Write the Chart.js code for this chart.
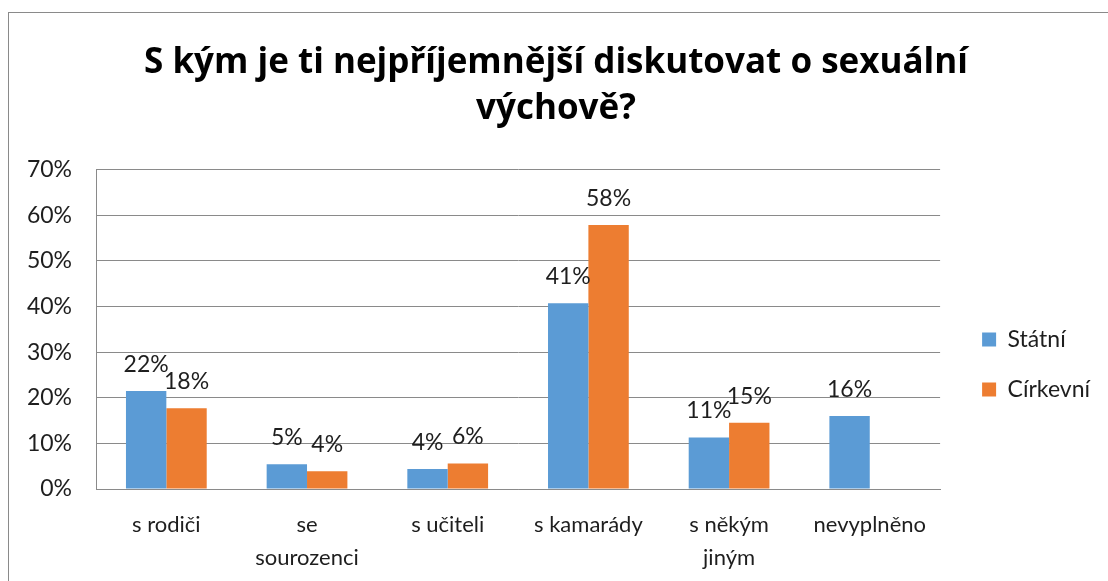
<!DOCTYPE html>
<html>
<head>
<meta charset="utf-8">
<script src="https://cdn.jsdelivr.net/npm/chart.js@4"></script>
<style>
  html, body { margin: 0; padding: 0; background: #fff; overflow: hidden; }
  #wrap { position: relative; width: 1108px; height: 581px; }
  #frame { position: absolute; left: 8px; top: 12px; width: 1200px; height: 700px; border: 1px solid #8a8a8a; box-sizing: border-box; }
  canvas { position: absolute; left: 0; top: 0; }
</style>
</head>
<body>
<div id="wrap">
  <div id="frame"></div>
  <canvas id="c" width="1108" height="581"></canvas>
</div>
<script>
const titleLines = ['S kým je ti nejpříjemnější diskutovat o sexuální', 'výchově?'];
const categories = [['s rodiči'], ['se', 'sourozenci'], ['s učiteli'], ['s kamarády'], ['s někým', 'jiným'], ['nevyplněno']];
const seriesNames = ['Státní', 'Církevní'];
const statniValues = [21.5, 5.4, 4.4, 40.7, 11.3, 16.0];
const cirkevniValues = [17.7, 3.9, 5.6, 57.9, 14.5, null];
const yTicks = [0, 10, 20, 30, 40, 50, 60, 70];

const FONT = 'Lato, "Open Sans", sans-serif';
const TITLE_FONT = '"Open Sans", Lato, sans-serif';
const TEXT = '#1e1e1e';

const dataLabels = {
  id: 'dataLabels',
  afterDatasetsDraw(chart) {
    const ctx = chart.ctx;
    ctx.save();
    ctx.font = '23px ' + FONT;
    ctx.fillStyle = TEXT;
    ctx.textAlign = 'center';
    ctx.textBaseline = 'alphabetic';
    chart.data.datasets.forEach((ds, di) => {
      const meta = chart.getDatasetMeta(di);
      meta.data.forEach((el, i) => {
        const v = ds.data[i];
        if (v === null || v === undefined) return;
        ctx.fillText(Math.round(v) + '%', el.x, el.y - 19);
      });
    });
    ctx.restore();
  }
};

const legendShift = {
  id: 'legendShift',
  afterLayout(chart) {
    const lg = chart.legend;
    if (lg) {
      lg.left += 15; lg.right += 15;
      lg.top += 77; lg.bottom += 77;
    }
  }
};

new Chart(document.getElementById('c'), {
  type: 'bar',
  data: {
    labels: categories,
    datasets: [
      { label: seriesNames[0], data: statniValues, backgroundColor: '#5B9BD5', borderWidth: 0 },
      { label: seriesNames[1], data: cirkevniValues, backgroundColor: '#ED7D31', borderWidth: 0 }
    ]
  },
  options: {
    responsive: false,
    animation: false,
    devicePixelRatio: 1,
    layout: { padding: { left: 27, right: 23, top: 0, bottom: 6 } },
    datasets: { bar: { categoryPercentage: 0.574, barPercentage: 1 } },
    plugins: {
      title: {
        display: true,
        text: titleLines,
        color: '#000',
        font: { family: TITLE_FONT, size: 35, weight: 'bold', lineHeight: 1.31 },
        padding: { top: 40, bottom: 38 }
      },
      legend: {
        position: 'right',
        labels: {
          color: TEXT,
          font: { family: FONT, size: 23 },
          boxWidth: 14,
          boxHeight: 14,
          padding: 27
        }
      },
      tooltip: { enabled: false }
    },
    scales: {
      x: {
        afterFit(scale) { scale.height = 86; },
        grid: { display: false, drawTicks: false },
        border: { display: true, color: '#8a8a8a', width: 1 },
        ticks: { color: TEXT, font: { family: FONT, size: 22, lineHeight: 1.5 }, padding: 19, maxRotation: 0, autoSkip: false }
      },
      y: {
        min: 0,
        max: 70,
        afterFit(scale) { scale.width = 69; },
        afterBuildTicks(scale) { scale.ticks = yTicks.map(v => ({ value: v })); },
        grid: { color: '#8a8a8a', drawTicks: false, lineWidth: 1 },
        border: { display: true, color: '#8a8a8a', width: 1 },
        ticks: { color: TEXT, font: { family: FONT, size: 23 }, padding: 24, callback: v => v + '%' }
      }
    }
  },
  plugins: [dataLabels, legendShift]
});
</script>
</body>
</html>
